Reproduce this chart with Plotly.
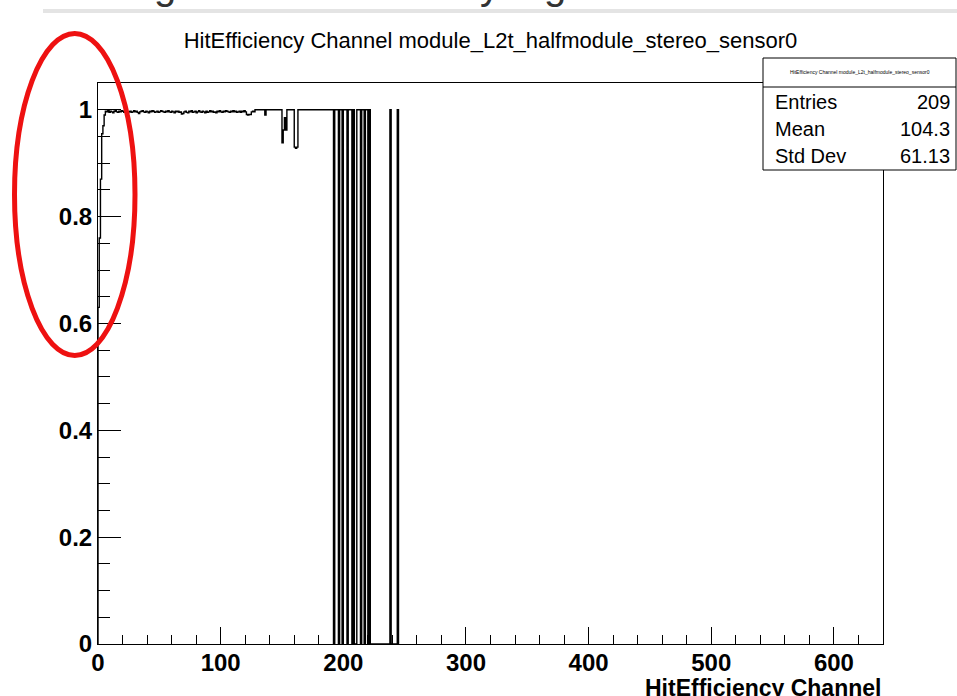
import plotly.graph_objects as go

# Hit efficiency per readout channel (bins 0..222 plus two isolated hits;
# higher channels are empty)
eff = [
    # ch 0-5: turn-on at the sensor edge
    0.63, 0.76, 0.87, 0.955, 0.97, 0.99,
    # ch 6-25
    0.997, 0.996, 0.998, 0.995, 0.997, 0.996, 0.994, 0.997, 0.998, 0.996,
    0.995, 0.997, 0.996, 0.998, 0.997, 0.995, 0.996, 0.997, 0.994, 0.996,
    # ch 26-45
    0.997, 0.995, 0.996, 0.998, 0.996, 0.997, 0.995, 0.993, 0.996, 0.997,
    0.998, 0.996, 0.995, 0.997, 0.996, 0.994, 0.997, 0.996, 0.998, 0.997,
    # ch 46-65
    0.995, 0.996, 0.997, 0.995, 0.996, 0.998, 0.997, 0.996, 0.995, 0.997,
    0.996, 0.998, 0.996, 0.995, 0.997, 0.996, 0.994, 0.997, 0.996, 0.997,
    # ch 66-85
    0.995, 0.996, 0.992, 0.993, 0.996, 0.997, 0.995, 0.994, 0.997, 0.996,
    0.998, 0.995, 0.996, 0.997, 0.994, 0.996, 0.998, 0.996, 0.995, 0.997,
    # ch 86-105
    0.996, 0.994, 0.997, 0.995, 0.996, 0.998, 0.996, 0.997, 0.995, 0.996,
    0.994, 0.997, 0.996, 0.998, 0.996, 0.995, 0.997, 0.996, 0.998, 0.997,
    # ch 106-127
    0.996, 0.995, 0.997, 0.996, 0.998, 0.996, 0.997, 0.995, 0.996, 0.997,
    0.995, 0.997, 0.996, 0.998, 0.996, 0.991, 0.990, 0.991, 0.991, 0.996,
    0.997, 0.996,
    # ch 128-149
    1.0, 1.0, 1.0, 1.0, 1.0, 1.0, 1.0, 1.0, 0.99, 1.0,
    1.0, 1.0, 1.0, 1.0, 1.0, 1.0, 1.0, 1.0, 1.0, 1.0,
    1.0, 1.0,
    # ch 150-163
    0.938, 0.962, 0.985, 0.962, 1.0, 1.0, 1.0, 1.0, 1.0, 1.0,
    0.93, 0.928, 0.93, 1.0,
    # ch 164-191
    1.0, 1.0, 1.0, 1.0, 1.0, 1.0, 1.0, 1.0, 1.0, 1.0,
    1.0, 1.0, 1.0, 1.0, 1.0, 1.0, 1.0, 1.0, 1.0, 1.0,
    1.0, 1.0, 1.0, 1.0, 1.0, 1.0, 1.0, 1.0,
    # ch 192-221: live channels with dead ones in between
    0.0, 1.0, 1.0, 1.0, 0.0, 1.0, 1.0, 0.0, 1.0, 1.0,
    1.0, 0.0, 1.0, 1.0, 1.0, 0.0, 1.0, 0.0, 0.0, 1.0,
    1.0, 1.0, 0.0, 1.0, 1.0, 0.0, 1.0, 1.0, 0.0, 1.0,
    # ch 222-244
    0.0, 0.0, 0.0, 0.0, 0.0, 0.0, 0.0, 0.0, 0.0, 0.0,
    0.0, 0.0, 0.0, 0.0, 0.0, 0.0, 1.0, 0.0, 0.0, 0.0,
    0.0, 0.0, 1.0,
]

x_range = [0, 640]
y_range = [0, 1.05]
x_ticks = [0, 100, 200, 300, 400, 500, 600]
y_ticks = [0, 0.2, 0.4, 0.6, 0.8, 1]
y_tick_text = ["0", "0.2", "0.4", "0.6", "0.8", "1"]

title_text = "HitEfficiency Channel module_L2t_halfmodule_stereo_sensor0"
x_title = "HitEfficiency Channel"
stat_names = ["Entries", "Mean", "Std Dev"]
stat_values = ["209", "104.3", "61.13"]

W, H = 957, 696
L, R, T, B = 98, 883, 83, 644


def px(x):
    return (x - L) / (R - L)


def py(y):
    return (B - y) / (B - T)


FONT = "Liberation Sans, Arial, Helvetica, sans-serif"

# histogram outline: start at zero, step through each bin, drop back to zero
xs = [0] + list(range(len(eff))) + [len(eff)]
ys = [0.0] + eff + [0.0]

fig = go.Figure()
fig.add_trace(go.Scatter(
    x=xs, y=ys, mode="lines", line=dict(color="black", width=1.4, shape="hv"),
    hoverinfo="skip", showlegend=False,
))

axis_common = dict(
    showgrid=False, zeroline=False, showline=True, linecolor="black",
    linewidth=1, mirror=True, ticks="inside", tickcolor="black",
    tickwidth=1, tickfont=dict(family=FONT, size=24, color="black", weight="bold"),
)

fig.update_xaxes(
    range=x_range, tickvals=x_ticks, ticklen=17, ticklabelstandoff=-3,
    minor=dict(dtick=20, ticklen=9, ticks="inside", tickcolor="black", tickwidth=1),
    **axis_common,
)
fig.update_yaxes(
    range=y_range, tickvals=y_ticks, ticktext=y_tick_text, ticklen=23,
    minor=dict(dtick=0.05, ticklen=12, ticks="inside", tickcolor="black", tickwidth=1),
    **axis_common,
)

shapes = []
annotations = []

# page strip above the canvas, with the bottoms of a heading's letters
shapes.append(dict(type="rect", xref="paper", yref="paper",
                   x0=px(43), x1=px(957), y0=py(13), y1=py(9),
                   fillcolor="#e4e4e4", line=dict(width=0), layer="above"))
for ch, xpos in [("g", 165), ("y", 490), ("g", 555)]:
    annotations.append(dict(text=ch, xref="paper", yref="paper", x=px(xpos),
                            y=py(-15), xanchor="center", yanchor="middle",
                            showarrow=False,
                            font=dict(family=FONT, size=40, color="#333333")))

# statistics box
bx0, bx1, by0, by1, bsep = 763, 956, 58, 170, 87
shapes.append(dict(type="rect", xref="paper", yref="paper",
                   x0=px(bx0), x1=px(bx1), y0=py(by1), y1=py(by0),
                   fillcolor="white", line=dict(color="black", width=1),
                   layer="above"))
shapes.append(dict(type="line", xref="paper", yref="paper",
                   x0=px(bx0), x1=px(bx1), y0=py(bsep), y1=py(bsep),
                   line=dict(color="black", width=1), layer="above"))
annotations.append(dict(text=title_text, xref="paper", yref="paper",
                        x=px((bx0 + bx1) / 2), y=py(72), xanchor="center",
                        yanchor="middle", showarrow=False,
                        font=dict(family=FONT, size=5, color="black")))
for i, (name, val) in enumerate(zip(stat_names, stat_values)):
    yc = 102 + i * 27
    annotations.append(dict(text=name, xref="paper", yref="paper", x=px(773),
                            y=py(yc), xanchor="left", yanchor="middle",
                            showarrow=False,
                            font=dict(family=FONT, size=20, color="black")))
    annotations.append(dict(text=val, xref="paper", yref="paper", x=px(952),
                            y=py(yc), xanchor="right", yanchor="middle",
                            showarrow=False,
                            font=dict(family=FONT, size=20, color="black")))

# x-axis title, right-aligned at the axis end
annotations.append(dict(text="<b>" + x_title + "</b>", xref="paper", yref="paper",
                        x=1.0, y=py(673), xanchor="right", yanchor="top",
                        showarrow=False,
                        font=dict(family=FONT, size=23, color="black")))

# red highlight ring around the low-efficiency edge channels
shapes.append(dict(type="circle", xref="paper", yref="paper",
                   x0=px(14.5), x1=px(135), y0=py(355.5), y1=py(33.5),
                   line=dict(color="#ee1111", width=5), layer="above"))

fig.update_layout(
    width=W, height=H,
    margin=dict(l=L, r=W - R, t=T, b=H - B),
    paper_bgcolor="white", plot_bgcolor="white",
    title=dict(text=title_text, x=(L + R) / 2 / W, xref="container", xanchor="center",
               y=1 - 40 / H, yref="container", yanchor="middle",
               font=dict(family=FONT, size=22, color="black")),
    shapes=shapes, annotations=annotations,
)

fig.write_html("out.html")
